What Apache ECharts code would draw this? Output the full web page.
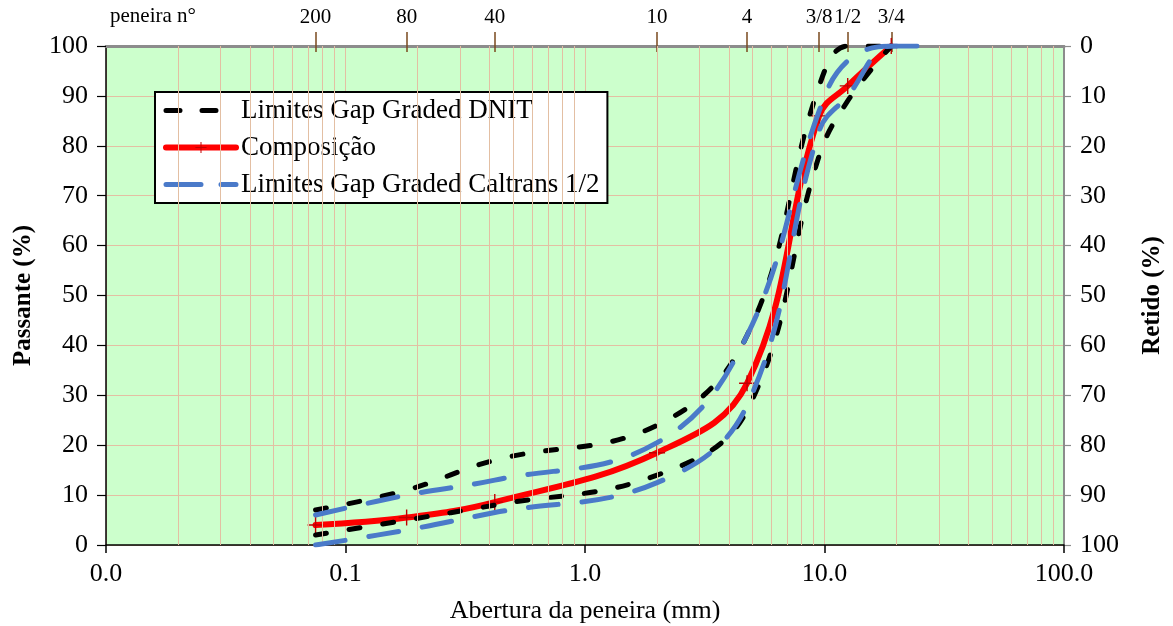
<!DOCTYPE html>
<html>
<head>
<meta charset="utf-8">
<script src="https://cdn.jsdelivr.net/npm/echarts@6/dist/echarts.min.js"></script>
<style>
  html, body { margin: 0; padding: 0; background: #ffffff; }
  #chart { width: 1173px; height: 626px; }
</style>
</head>
<body>
<div id="chart"></div>
<script>
// Sieve openings (mm) and their sieve numbers
const sieveSizes = [0.075, 0.18, 0.42, 2.0, 4.75, 9.5, 12.5, 19];
const sieveNames = ['200', '80', '40', '10', '4', '3/8', '1/2', '3/4'];

// Blend gradation (% passing) at each sieve
const composicao = [4, 5.5, 8.6, 18.5, 32.4, 86, 92, 100];

// DNIT gap graded band
const dnitUpper = [7, 11, 17, 24, 42, 92, 100, 100];
const dnitLower = [2, 5, 8, 14, 27, 78, 89, 100];

// Caltrans 1/2" gap graded band (also uses the 1" sieve)
const caltransSizes = [0.075, 0.18, 0.42, 2.0, 4.75, 9.5, 12.5, 19, 25];
const caltransUpper = [6, 10, 13, 20.5, 42, 87, 97, 100, 100];
const caltransLower = [0, 3, 6.5, 12.5, 28, 83, 90, 100, 100];

// Log-paper vertical rules: 2..9 within each decade
const gridDecades = [0.01, 0.1, 1, 10];
const gridSteps = [2, 3, 4, 5, 6, 7, 8, 9];

const FONT = 'Liberation Serif';
const GRID_COLOR = '#e3bfa3';
const NAME_DNIT = 'Limites Gap Graded DNIT';
const NAME_COMP = 'Composição';
const NAME_CALT = 'Limites Gap Graded Caltrans 1/2';

const pairs = (xs, ys) => xs.map((x, i) => [x, ys[i]]);

const minorLines = [];
gridDecades.forEach(d => gridSteps.forEach(k => minorLines.push({ xAxis: +(d * k).toPrecision(3) })));

const nameOf = {};
sieveSizes.forEach((s, i) => { nameOf[s] = sieveNames[i]; });

const blackDash = { color: '#000000', width: 5, type: [11, 23], cap: 'round' };
const blueDash = { color: '#4a7ac9', width: 5, type: [30, 24], cap: 'round' };
const smooth = 0.4;

const chart = echarts.init(document.getElementById('chart'), null, { renderer: 'canvas' });

chart.setOption({
  animation: false,
  textStyle: { fontFamily: FONT },
  grid: {
    left: 106, right: 109, top: 46, bottom: 81,
    outerBoundsMode: 'none', containLabel: false,
    show: true, backgroundColor: '#ccffcc', borderWidth: 0
  },
  legend: {
    data: [
      { name: NAME_DNIT, itemStyle: { opacity: 0 },
        lineStyle: { type: [14, 22], dashOffset: 0, width: 5, cap: 'round', color: '#000' } },
      { name: NAME_COMP, lineStyle: { width: 6, color: '#ff0000', cap: 'round' } },
      { name: NAME_CALT, itemStyle: { opacity: 0 },
        lineStyle: { type: [35, 20], dashOffset: 0, width: 5, cap: 'round', color: '#4a7ac9' } }
    ],
    orient: 'vertical',
    left: 155, top: 92,
    padding: [4, 8, 4, 8],
    itemWidth: 70, itemHeight: 14, itemGap: 8,
    backgroundColor: '#ffffff',
    borderColor: '#000000', borderWidth: 2,
    textStyle: { fontFamily: FONT, fontSize: 27, lineHeight: 29, color: '#000' }
  },
  xAxis: [
    {
      type: 'log', logBase: 10, min: 0.01, max: 100,
      position: 'bottom',
      name: 'Abertura da peneira (mm)', nameLocation: 'middle', nameGap: 53,
      nameTextStyle: { fontFamily: FONT, fontSize: 26, color: '#000' },
      axisLine: { show: true, lineStyle: { color: '#000', width: 1.5 } },
      axisTick: { show: true, inside: false, length: 8, lineStyle: { color: '#000', width: 1.5 } },
      axisLabel: {
        fontFamily: FONT, fontSize: 26, color: '#000', margin: 16,
        formatter: v => Number(v).toFixed(1)
      },
      splitLine: { show: true, lineStyle: { color: GRID_COLOR, width: 1 } }
    },
    {
      type: 'log', logBase: 10, min: 0.01, max: 100,
      position: 'top',
      axisLine: { show: true, lineStyle: { color: '#8c8c8c', width: 3 } },
      axisTick: {
        show: true, inside: false, length: 14, customValues: sieveSizes,
        lineStyle: { color: '#7a4a1e', width: 1.5 }
      },
      axisLabel: {
        show: true, customValues: sieveSizes, margin: 18,
        fontFamily: FONT, fontSize: 21, color: '#000',
        formatter: v => nameOf[v] !== undefined ? nameOf[v] : ''
      },
      splitLine: { show: false }
    },
    {
      type: 'log', logBase: 10, min: 0.01, max: 100,
      position: 'top',
      axisLine: { show: false },
      axisTick: {
        show: true, inside: true, length: 6, customValues: sieveSizes,
        lineStyle: { color: '#7a4a1e', width: 1.5 }
      },
      axisLabel: { show: false },
      splitLine: { show: false }
    }
  ],
  yAxis: [
    {
      type: 'value', min: 0, max: 100, interval: 10,
      position: 'left',
      name: 'Passante (%)', nameLocation: 'middle', nameGap: 70, nameRotate: 90,
      nameTextStyle: { fontFamily: FONT, fontSize: 25, fontWeight: 'bold', color: '#000' },
      axisLine: { show: true, lineStyle: { color: '#000', width: 1.5 } },
      axisTick: { show: true, inside: false, length: 9, lineStyle: { color: '#000', width: 1.2 } },
      axisLabel: { fontFamily: FONT, fontSize: 26, color: '#000', margin: 18 },
      splitLine: { show: true, lineStyle: { color: GRID_COLOR, width: 1 } }
    },
    {
      type: 'value', min: 0, max: 100, interval: 10, inverse: true,
      position: 'right',
      name: 'Retido (%)', nameLocation: 'middle', nameGap: 76, nameRotate: 90,
      nameTextStyle: { fontFamily: FONT, fontSize: 25, fontWeight: 'bold', color: '#000' },
      axisLine: { show: true, lineStyle: { color: '#8c8c8c', width: 2 } },
      axisTick: { show: true, inside: false, length: 7, lineStyle: { color: '#8c8c8c', width: 1.2 } },
      axisLabel: { fontFamily: FONT, fontSize: 26, color: '#000', margin: 16 },
      splitLine: { show: false }
    }
  ],
  graphic: [
    {
      type: 'text', left: 110, top: 6,
      style: { text: 'peneira n°', fontFamily: FONT, fontSize: 21, fill: '#000' }
    }
  ],
  series: [
    {
      name: 'rules', type: 'line', data: [], silent: true, z: 1,
      markLine: {
        silent: true, symbol: ['none', 'none'], label: { show: false },
        lineStyle: { color: GRID_COLOR, width: 1, type: 'solid' },
        data: minorLines
      }
    },
    {
      name: NAME_COMP, type: 'line', z: 3,
      data: pairs(sieveSizes, composicao),
      smooth: smooth,
      symbol: 'path://M7.3,0h1.4v16h-1.4z M0,7.3h16v1.4h-16z',
      symbolSize: 16, showSymbol: true,
      itemStyle: { color: '#c00000' },
      lineStyle: { color: '#ff0000', width: 6, cap: 'round' }
    },
    {
      name: NAME_DNIT, type: 'line', z: 4,
      data: pairs(sieveSizes, dnitUpper),
      smooth: smooth, symbol: 'none',
      itemStyle: { color: '#000' }, lineStyle: blackDash
    },
    {
      name: NAME_DNIT, type: 'line', z: 4,
      data: pairs(sieveSizes, dnitLower),
      smooth: smooth, symbol: 'none',
      itemStyle: { color: '#000' }, lineStyle: blackDash
    },
    {
      name: NAME_CALT, type: 'line', z: 5,
      data: pairs(caltransSizes, caltransUpper),
      smooth: smooth, symbol: 'none',
      itemStyle: { color: '#4a7ac9' }, lineStyle: blueDash
    },
    {
      name: NAME_CALT, type: 'line', z: 5,
      data: pairs(caltransSizes, caltransLower),
      smooth: smooth, symbol: 'none',
      itemStyle: { color: '#4a7ac9' }, lineStyle: blueDash
    }
  ]
});
</script>
</body>
</html>
